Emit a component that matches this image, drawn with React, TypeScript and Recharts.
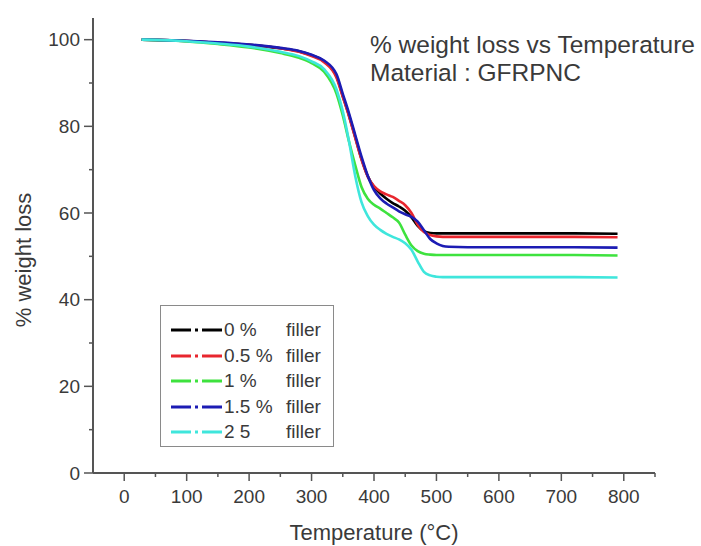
import { Legend, Line, LineChart, XAxis, YAxis } from 'recharts';

// temperature (°C) sample points
const temps = [28, 50, 100, 150, 200, 250, 280, 300, 320, 340, 350, 360, 370, 380, 390, 400, 410, 420, 430, 440, 450, 460, 470, 480, 490, 500, 510, 520, 550, 600, 700, 790];

// % weight for each filler content
const filler0 = [100, 99.95, 99.7, 99.3, 98.8, 98.0, 97.3, 96.4, 95.0, 91.5, 87.0, 82.5, 77.5, 72.5, 68.5, 66.0, 64.5, 63.3, 62.3, 61.5, 60.5, 59.0, 57.0, 55.8, 55.4, 55.3, 55.3, 55.3, 55.3, 55.3, 55.3, 55.2];
const filler05 = [100, 99.95, 99.7, 99.3, 98.8, 98.0, 97.2, 96.2, 94.8, 91.2, 86.8, 82.3, 77.3, 72.3, 68.4, 66.2, 65.0, 64.3, 63.7, 62.8, 61.8, 60.0, 57.3, 55.6, 54.9, 54.6, 54.5, 54.5, 54.5, 54.5, 54.5, 54.4];
const filler1 = [100, 99.9, 99.6, 99.0, 98.2, 96.9, 95.8, 94.6, 92.6, 87.5, 82.5, 76.5, 71.0, 66.0, 63.3, 61.9, 61.0, 60.0, 59.0, 57.8, 55.0, 52.5, 51.2, 50.6, 50.4, 50.3, 50.3, 50.3, 50.3, 50.3, 50.3, 50.2];
const filler15 = [100, 99.95, 99.75, 99.4, 98.9, 98.1, 97.4, 96.5, 95.2, 92.0, 87.5, 83.0, 78.0, 73.0, 68.6, 65.3, 63.4, 62.2, 61.3, 60.4, 59.7, 59.1, 58.0, 56.0, 54.0, 53.0, 52.4, 52.2, 52.1, 52.1, 52.1, 52.0];
const filler2 = [100, 99.95, 99.65, 99.1, 98.4, 97.2, 96.2, 95.0, 93.2, 88.5, 83.5, 76.5, 68.5, 62.5, 59.3, 57.3, 56.1, 55.2, 54.5, 53.9, 53.0, 51.5, 48.8, 46.4, 45.6, 45.3, 45.2, 45.2, 45.2, 45.2, 45.2, 45.1];

const seriesLabels = ['0 %', '0.5 %', '1 %', '1.5 %', '2 5'];
const seriesColors = ['#000000', '#e8262e', '#3ee23e', '#1c1cb4', '#3fe6dc'];
const seriesValues = [filler0, filler05, filler1, filler15, filler2];

const xTicks = [0, 50, 100, 150, 200, 250, 300, 350, 400, 450, 500, 550, 600, 650, 700, 750, 800, 850];
const yTicks = [0, 10, 20, 30, 40, 50, 60, 70, 80, 90, 100];

const data = temps.map((t, i) => {
	const row: Record<string, number> = { t };
	seriesValues.forEach((vals, k) => {
		row['s' + k] = vals[i];
	});
	return row;
});

const font = '"Liberation Sans", Arial, sans-serif';
const textColor = '#3a3a3a';
const axisColor = '#555';

const XTick = (props: any) => {
	const { x, y, payload } = props;
	const major = payload.value % 100 === 0 && payload.value <= 800;
	return (
		<g>
			<line x1={x} x2={x} y1={y} y2={y + (major ? 8 : 4)} stroke={axisColor} strokeWidth={1.5} />
			{major && (
				<text x={x} y={y + 30} textAnchor="middle" fontSize={19} fontFamily={font} fill={textColor}>
					{payload.value}
				</text>
			)}
		</g>
	);
};

const YTick = (props: any) => {
	const { x, y, payload } = props;
	const major = payload.value % 20 === 0;
	return (
		<g>
			<line x1={x} x2={x - (major ? 9 : 4)} y1={y} y2={y} stroke={axisColor} strokeWidth={1.5} />
			{major && (
				<text x={x - 13} y={y} dy="0.35em" textAnchor="end" fontSize={19} fontFamily={font} fill={textColor}>
					{payload.value}
				</text>
			)}
		</g>
	);
};

const LegendBox = () => (
	<div
		style={{
			width: 174,
			height: 142,
			border: '1.5px solid #8a8a8a',
			background: '#fff',
			boxSizing: 'border-box',
			fontFamily: font,
			fontSize: 19,
			color: textColor,
			position: 'relative',
		}}
	>
		{seriesLabels.map((label, i) => (
			<div key={label} style={{ position: 'absolute', left: 0, top: 12 + i * 25.5, height: 24, width: 170 }}>
				<svg width={54} height={24} style={{ position: 'absolute', left: 9, top: 0 }}>
					<line x1={1} x2={53} y1={12} y2={12} stroke={seriesColors[i]} strokeWidth={3} strokeDasharray="20 4 3 4" />
				</svg>
				<span style={{ position: 'absolute', left: 63, top: 1, lineHeight: '22px' }}>{label}</span>
				<span style={{ position: 'absolute', left: 125, top: 1, lineHeight: '22px' }}>filler</span>
			</div>
		))}
	</div>
);

export default function App() {
	return (
		<div style={{ position: 'absolute', left: 0, top: 0, width: 701, height: 546, background: '#fff' }}>
			<LineChart width={701} height={546} data={data} margin={{ top: 18, right: 46, left: 0, bottom: 0 }}>
				<XAxis
					dataKey="t"
					type="number"
					domain={[-50, 850]}
					ticks={xTicks}
					interval={0}
					allowDataOverflow
					height={73}
					tickSize={0}
					tickMargin={0}
					tickLine={false}
					tick={<XTick />}
					axisLine={{ stroke: axisColor, strokeWidth: 2 }}
				/>
				<YAxis
					type="number"
					domain={[0, 105]}
					ticks={yTicks}
					interval={0}
					width={93}
					tickSize={0}
					tickMargin={0}
					tickLine={false}
					tick={<YTick />}
					axisLine={{ stroke: axisColor, strokeWidth: 2 }}
				/>
				<Legend
					layout="horizontal"
					verticalAlign="middle"
					align="center"
					content={<LegendBox />}
					wrapperStyle={{ position: 'absolute', left: 160, top: 305, width: 174, height: 142 }}
				/>
				{seriesLabels.map((label, i) => (
					<Line
						key={label}
						type="monotone"
						dataKey={'s' + i}
						name={label + ' filler'}
						stroke={seriesColors[i]}
						strokeWidth={2.6}
						dot={false}
						isAnimationActive={false}
					/>
				))}
				<text x={370} y={53} fontSize={24.5} fontFamily={font} fill={textColor}>
					% weight loss vs Temperature
				</text>
				<text x={370} y={81} fontSize={24.5} fontFamily={font} fill={textColor}>
					Material : GFRPNC
				</text>
				<text x={374} y={540} textAnchor="middle" fontSize={22} fontFamily={font} fill={textColor}>
					Temperature (°C)
				</text>
				<text
					x={0}
					y={0}
					transform="translate(31 260) rotate(-90)"
					textAnchor="middle"
					fontSize={22}
					fontFamily={font}
					fill={textColor}
				>
					% weight loss
				</text>
			</LineChart>
		</div>
	);
}
